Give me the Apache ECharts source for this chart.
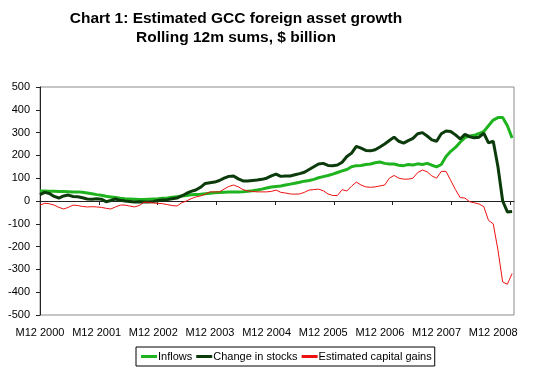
<!DOCTYPE html>
<html>
<head>
<meta charset="utf-8">
<script src="https://cdn.jsdelivr.net/npm/echarts@6/dist/echarts.min.js"></script>
<style>
html,body{margin:0;padding:0;background:#fff;}
#c{width:542px;height:369px;}
</style>
</head>
<body>
<div id="c"></div>
<script>
// Monthly data, M12 2000 .. M4 2009 (index 0 = M12 2000)
var xLabels = ['M12 2000','M12 2001','M12 2002','M12 2003','M12 2004','M12 2005','M12 2006','M12 2007','M12 2008'];
var yTicks = [-500,-400,-300,-200,-100,0,100,200,300,400,500];

var inflows = [44,44,43,43,42,42,41,40,40,38,35,32,28,25,21,18,15,12,10,9,
  8,7,7,8,9,10,12,13,16,19,22,24,27,29,30,32,34,36,37,38,
  39,40,40,41,43,45,48,52,57,61,64,66,70,74,78,82,87,90,95,102,
  107,112,118,125,132,138,150,155,156,160,162,168,171,165,162,162,157,155,160,158,
  163,160,165,157,150,160,195,218,235,258,278,285,288,296,305,330,355,366,366,330,
  276];

var stocks = [28,38,33,20,13,22,26,20,19,14,9,8,10,8,-3,2,9,3,0,-2,
  -4,-3,-4,-4,-2,2,4,6,10,13,22,33,42,48,60,77,80,83,90,100,
  108,110,97,88,88,90,92,95,100,110,118,108,110,110,115,120,126,138,150,162,
  165,156,155,158,170,195,210,240,232,222,220,225,237,250,265,280,262,254,265,275,
  295,300,285,268,262,295,307,305,290,272,292,282,277,280,297,255,262,150,0,-48,
  -46];

var gains = [-18,-10,-12,-18,-28,-35,-28,-18,-20,-24,-26,-25,-26,-28,-32,-35,-26,-18,-18,-22,
  -26,-20,-6,-6,-9,-10,-12,-16,-20,-22,-8,0,10,18,22,30,40,40,40,52,
  64,70,62,50,44,42,40,40,40,42,48,38,35,31,30,31,38,48,50,52,
  45,31,24,24,50,44,65,83,70,62,60,62,66,70,100,112,100,96,96,100,
  125,136,128,110,100,130,130,90,50,15,13,-3,-8,-13,-25,-85,-100,-215,-355,-365,
  -318];

var FONT = 'Arial, "Liberation Sans", sans-serif';
function pairs(a){ return a.map(function(v,i){ return [i,v]; }); }

var chart = echarts.init(document.getElementById('c'));
chart.setOption({
  animation:false,
  backgroundColor:'#ffffff',
  title:{
    text:'Chart 1: Estimated GCC foreign asset growth\nRolling 12m sums, $ billion',
    left:231, top:4, textAlign:'center',
    textStyle:{fontFamily:FONT,fontWeight:'bold',fontSize:15.5,color:'#000',lineHeight:19}
  },
  grid:{left:40,right:28,top:87,bottom:54,show:true,borderColor:'#8c8c8c',borderWidth:1},
  legend:{
    left:136, top:347,
    data:['Inflows','Change in stocks','Estimated capital gains'],
    icon:'rect', itemWidth:16, itemHeight:3, itemGap:4,
    borderColor:'#000', borderWidth:1, padding:[4,3,4,5],
    textStyle:{fontFamily:FONT,fontSize:11,color:'#000',padding:[0,0,0,-4]}
  },
  xAxis:[{
    type:'value', min:0, max:100.4, position:'bottom',
    axisLine:{show:false,onZero:false},
    axisTick:{show:false},
    splitLine:{show:false},
    axisLabel:{
      customValues:[0,12,24,36,48,60,72,84,96],
      showMinLabel:true, showMaxLabel:true,
      margin:12, fontFamily:FONT, fontSize:11, color:'#000',
      formatter:function(v){ return xLabels[Math.round(v/12)]; }
    }
  },{
    type:'value', min:0, max:100.4, position:'bottom', gridIndex:0,
    axisLine:{show:true,onZero:true,lineStyle:{color:'#222',width:1}},
    axisTick:{show:true,length:4,customValues:[12.45,24.9,37.35,49.8,62.25,74.7,87.15,99.6],lineStyle:{color:'#222'}},
    axisLabel:{show:false},
    splitLine:{show:false}
  }],
  yAxis:{
    type:'value', min:-500, max:500, interval:100,
    axisLine:{show:true,lineStyle:{color:'#222'}},
    axisTick:{show:true,length:4,inside:false,lineStyle:{color:'#222'}},
    splitLine:{show:false},
    axisLabel:{margin:10,fontFamily:FONT,fontSize:11,color:'#000',
      formatter:function(v){ return yTicks.indexOf(v)>=0 ? String(v) : ''; }}
  },
  series:[
    {name:'Inflows',type:'line',xAxisIndex:0,data:pairs(inflows),showSymbol:false,symbol:'none',
      lineStyle:{color:'#1fb41f',width:3},itemStyle:{color:'#1fb41f'},z:3},
    {name:'Change in stocks',type:'line',xAxisIndex:0,data:pairs(stocks),showSymbol:false,symbol:'none',
      lineStyle:{color:'#0b3a0b',width:3},itemStyle:{color:'#0b3a0b'},z:4},
    {name:'Estimated capital gains',type:'line',xAxisIndex:0,data:pairs(gains),showSymbol:false,symbol:'none',
      lineStyle:{color:'#ee1111',width:1},itemStyle:{color:'#ee1111'},z:5}
  ]
});
</script>
</body>
</html>
